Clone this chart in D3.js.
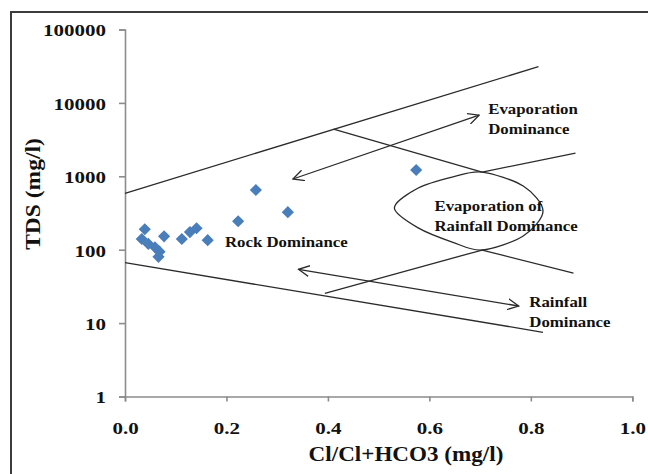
<!DOCTYPE html>
<html>
<head>
<meta charset="utf-8">
<script src="https://cdn.jsdelivr.net/npm/d3@7"></script>
<style>
  html, body { margin: 0; padding: 0; background: #fff; }
  svg { display: block; }
  text { font-family: "Liberation Serif", "Times New Roman", serif; font-weight: bold; fill: #111; }
</style>
</head>
<body>
<svg id="chart" width="648" height="474"></svg>
<script>
'use strict';

// ---- Data -------------------------------------------------------------------

// Sample points: Cl/(Cl+HCO3) ratio and TDS (mg/l).
const ratio = [0.039, 0.033, 0.046, 0.059, 0.068, 0.066, 0.077, 0.112, 0.128, 0.141, 0.163, 0.223, 0.258, 0.321, 0.574];
const tds   = [190, 140, 120, 108, 94, 80, 152, 140, 174, 196, 135, 244, 650, 325, 1220];

const xTicks = [0, 0.2, 0.4, 0.6, 0.8, 1.0];
const yTicks = [1, 10, 100, 1000, 10000, 100000];

// Gibbs boundary lines, as [ratio, TDS] pairs.
const upperBound  = [[0, 587], [0.815, 31100]];
const lowerBound  = [[0, 66.5], [0.824, 7.5]];
const evapUpper   = [[0.411, 4400], [0.704, 1140]];
const evapRight   = [[0.704, 1140], [0.888, 2075]];
const rainLower   = [[0.394, 25.5], [0.704, 99]];
const rainRight   = [[0.704, 99], [0.884, 48]];

// Double-headed arrows.
const arrowEvap = [[0.331, 919], [0.698, 6800]];
const arrowRain = [[0.342, 54], [0.776, 17.1]];

// Lens round the "Evaporation of Rainfall" zone (closed outline).
const lens = [
  [0.531, 370], [0.578, 693], [0.645, 977], [0.704, 1143], [0.785, 738],
  [0.824, 337], [0.785, 154], [0.704, 99], [0.645, 127], [0.578, 198],
];

// Annotation labels: text lines, ratio, TDS of first baseline.
const labels = [
  { lines: ['Evaporation', 'Dominance'], x: 0.716, y: 7000 },
  { lines: ['Evaporation of', 'Rainfall Dominance'], x: 0.610, y: 340 },
  { lines: ['Rock Dominance'], x: 0.197, y: 110 },
  { lines: ['Rainfall', 'Dominance'], x: 0.797, y: 16.8 },
];

// ---- Layout -----------------------------------------------------------------

const svg = d3.select('#chart');

const x = d3.scaleLinear().domain([0, 1]).range([125, 632.3]);
const y = d3.scaleLog().domain([1, 100000]).range([396.5, 29.5]);

// The reference text is a little wider than Times; widen it to match.
function stretch(sel, k) {
  sel.each(function () {
    const w = this.getComputedTextLength();
    d3.select(this).attr('textLength', w * k).attr('lengthAdjust', 'spacingAndGlyphs');
  });
}

// Outer frame (runs off the right and bottom of the picture).
svg.append('rect')
  .attr('x', 11).attr('y', 12)
  .attr('width', 660).attr('height', 490)
  .attr('fill', 'none')
  .attr('stroke', '#3c3c3c')
  .attr('stroke-width', 2);

// ---- Axes -------------------------------------------------------------------

const AXIS_COLOR = '#8c8c8c';

const yAxis = svg.append('g')
  .attr('transform', `translate(${x(0)},0)`)
  .call(d3.axisLeft(y).tickValues(yTicks).tickSize(6).tickFormat(d3.format('d')));
const xAxis = svg.append('g')
  .attr('transform', `translate(0,${y(1)})`)
  .call(d3.axisBottom(x).tickValues(xTicks).tickSize(5).tickFormat(d3.format('.1f')));

[xAxis, yAxis].forEach(g => {
  g.select('.domain').attr('stroke', AXIS_COLOR).attr('stroke-width', 1.6);
  g.selectAll('.tick line').attr('stroke', AXIS_COLOR).attr('stroke-width', 1.6);
  g.selectAll('.tick text')
    .attr('fill', '#111')
    .style('font-family', '"Liberation Serif", "Times New Roman", serif')
    .style('font-weight', 'bold')
    .style('font-size', '17.5px');
});
yAxis.selectAll('.tick text').attr('x', -19).attr('dy', '0.36em');
xAxis.selectAll('.tick text').attr('y', 25).attr('dy', '0.71em');
stretch(yAxis.selectAll('.tick text'), 1.2);
stretch(xAxis.selectAll('.tick text'), 1.2);

// Axis titles.
svg.append('text')
  .attr('transform', 'translate(40,194) rotate(-90)')
  .attr('text-anchor', 'middle')
  .style('font-size', '21px')
  .text('TDS (mg/l)')
  .call(stretch, 1.12);

svg.append('text')
  .attr('x', 406).attr('y', 461)
  .attr('text-anchor', 'middle')
  .style('font-size', '21px')
  .text('Cl/Cl+HCO3 (mg/l)')
  .call(stretch, 1.1);

// ---- Boundary lines, lens, arrows -------------------------------------------

const line = d3.line().x(d => x(d[0])).y(d => y(d[1]));
const LINE_COLOR = '#2b2b2b';

svg.append('defs').append('marker')
  .attr('id', 'head')
  .attr('viewBox', '0 -6 12 12')
  .attr('refX', 11)
  .attr('refY', 0)
  .attr('markerWidth', 12)
  .attr('markerHeight', 12)
  .attr('markerUnits', 'userSpaceOnUse')
  .attr('orient', 'auto-start-reverse')
  .append('path')
  .attr('d', 'M0,-5.5L11,0L0,5.5')
  .attr('fill', 'none')
  .attr('stroke', LINE_COLOR)
  .attr('stroke-width', 1.3);

const bounds = [upperBound, lowerBound, evapUpper, evapRight, rainLower, rainRight];
svg.append('g').selectAll('path')
  .data(bounds)
  .join('path')
  .attr('d', line)
  .attr('fill', 'none')
  .attr('stroke', LINE_COLOR)
  .attr('stroke-width', 1.3);

svg.append('g').selectAll('path')
  .data([arrowEvap, arrowRain])
  .join('path')
  .attr('d', line)
  .attr('fill', 'none')
  .attr('stroke', LINE_COLOR)
  .attr('stroke-width', 1.3)
  .attr('marker-start', 'url(#head)')
  .attr('marker-end', 'url(#head)');

svg.append('path')
  .datum(lens)
  .attr('d', line.curve(d3.curveCardinalClosed.tension(0.1)))
  .attr('fill', 'none')
  .attr('stroke', LINE_COLOR)
  .attr('stroke-width', 1.3);

// ---- Sample points ----------------------------------------------------------

const points = ratio.map((r, i) => [r, tds[i]]);
const diamond = d3.symbol().type(d3.symbolSquare).size(74);

svg.append('g').selectAll('path')
  .data(points)
  .join('path')
  .attr('d', diamond)
  .attr('transform', d => `translate(${x(d[0])},${y(d[1])}) rotate(45)`)
  .attr('fill', '#4a7ebb');

// ---- Annotation labels ------------------------------------------------------

labels.forEach(l => {
  const t = svg.append('text')
    .attr('x', x(l.x))
    .attr('y', y(l.y))
    .style('font-size', '15px');
  l.lines.forEach((s, i) => {
    t.append('tspan')
      .attr('x', x(l.x))
      .attr('dy', i === 0 ? 0 : 20)
      .text(s);
  });
  stretch(t.selectAll('tspan'), 1.12);
});
</script>
</body>
</html>
